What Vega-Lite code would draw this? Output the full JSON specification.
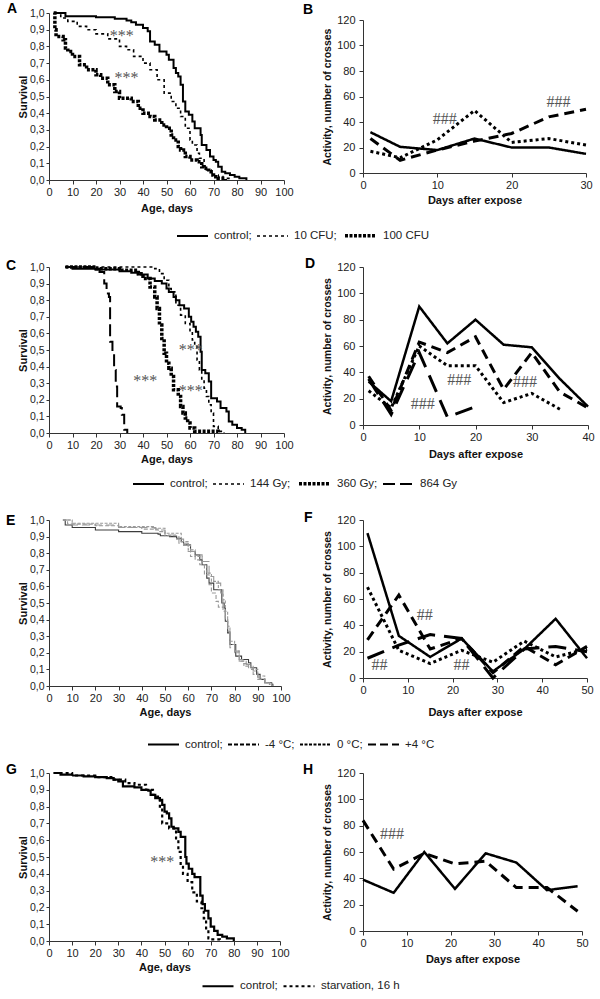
{
"$schema": "https://vega.github.io/schema/vega-lite/v6.json",
"background": "white",
"padding": {"left": 6, "top": 2, "right": 5, "bottom": 2},
"columns": 2,
"spacing": {"row": 87, "column": 79},
"bounds": "flush",
"center": {"row": true},
"resolve": {"scale": {"strokeDash": "independent", "strokeWidth": "independent", "color": "independent"}, "legend": {"strokeDash": "independent", "strokeWidth": "independent", "color": "independent"}},
"datasets": {
"survA": [
{"g":"control","t":2,"s":1.0},{"g":"control","t":7,"s":0.98},{"g":"control","t":20,"s":0.975},{"g":"control","t":28,"s":0.965},{"g":"control","t":33,"s":0.955},{"g":"control","t":35,"s":0.945},{"g":"control","t":37,"s":0.93},{"g":"control","t":40,"s":0.91},{"g":"control","t":42,"s":0.89},{"g":"control","t":43,"s":0.83},{"g":"control","t":45,"s":0.81},{"g":"control","t":47,"s":0.77},{"g":"control","t":50,"s":0.75},{"g":"control","t":51,"s":0.72},{"g":"control","t":53,"s":0.67},{"g":"control","t":54,"s":0.64},{"g":"control","t":55,"s":0.62},{"g":"control","t":56,"s":0.57},{"g":"control","t":57,"s":0.47},{"g":"control","t":58,"s":0.41},{"g":"control","t":59.5,"s":0.39},{"g":"control","t":61,"s":0.35},{"g":"control","t":62,"s":0.31},{"g":"control","t":64.5,"s":0.27},{"g":"control","t":65,"s":0.21},{"g":"control","t":67,"s":0.18},{"g":"control","t":68.5,"s":0.14},{"g":"control","t":70,"s":0.12},{"g":"control","t":71,"s":0.11},{"g":"control","t":72,"s":0.08},{"g":"control","t":73.5,"s":0.05},{"g":"control","t":75,"s":0.04},{"g":"control","t":77,"s":0.03},{"g":"control","t":79,"s":0.02},{"g":"control","t":81,"s":0.01},{"g":"control","t":84,"s":0.0},
{"g":"10 CFU","t":3,"s":1.0},{"g":"10 CFU","t":5,"s":0.97},{"g":"10 CFU","t":8,"s":0.95},{"g":"10 CFU","t":12,"s":0.92},{"g":"10 CFU","t":16,"s":0.9},{"g":"10 CFU","t":20,"s":0.875},{"g":"10 CFU","t":25,"s":0.845},{"g":"10 CFU","t":30,"s":0.8},{"g":"10 CFU","t":33,"s":0.78},{"g":"10 CFU","t":36,"s":0.74},{"g":"10 CFU","t":40,"s":0.7},{"g":"10 CFU","t":43,"s":0.66},{"g":"10 CFU","t":46,"s":0.6},{"g":"10 CFU","t":49,"s":0.52},{"g":"10 CFU","t":52,"s":0.47},{"g":"10 CFU","t":54,"s":0.43},{"g":"10 CFU","t":56,"s":0.38},{"g":"10 CFU","t":58,"s":0.31},{"g":"10 CFU","t":60,"s":0.24},{"g":"10 CFU","t":61,"s":0.21},{"g":"10 CFU","t":63,"s":0.16},{"g":"10 CFU","t":64,"s":0.13},{"g":"10 CFU","t":66,"s":0.08},{"g":"10 CFU","t":67,"s":0.06},{"g":"10 CFU","t":69,"s":0.03},{"g":"10 CFU","t":72,"s":0.02},{"g":"10 CFU","t":74,"s":0.01},{"g":"10 CFU","t":77,"s":0.0},
{"g":"100 CFU","t":2,"s":1.0},{"g":"100 CFU","t":2.5,"s":0.9},{"g":"100 CFU","t":3,"s":0.86},{"g":"100 CFU","t":6,"s":0.84},{"g":"100 CFU","t":7,"s":0.79},{"g":"100 CFU","t":8,"s":0.77},{"g":"100 CFU","t":10,"s":0.74},{"g":"100 CFU","t":13,"s":0.69},{"g":"100 CFU","t":16,"s":0.66},{"g":"100 CFU","t":20,"s":0.63},{"g":"100 CFU","t":22,"s":0.61},{"g":"100 CFU","t":25,"s":0.57},{"g":"100 CFU","t":28,"s":0.53},{"g":"100 CFU","t":30,"s":0.49},{"g":"100 CFU","t":35,"s":0.47},{"g":"100 CFU","t":38,"s":0.43},{"g":"100 CFU","t":40,"s":0.4},{"g":"100 CFU","t":43,"s":0.38},{"g":"100 CFU","t":45,"s":0.36},{"g":"100 CFU","t":48,"s":0.33},{"g":"100 CFU","t":50,"s":0.31},{"g":"100 CFU","t":52,"s":0.27},{"g":"100 CFU","t":53,"s":0.24},{"g":"100 CFU","t":55,"s":0.2},{"g":"100 CFU","t":56,"s":0.18},{"g":"100 CFU","t":58,"s":0.14},{"g":"100 CFU","t":60,"s":0.12},{"g":"100 CFU","t":63,"s":0.11},{"g":"100 CFU","t":65,"s":0.08},{"g":"100 CFU","t":66,"s":0.07},{"g":"100 CFU","t":68,"s":0.05},{"g":"100 CFU","t":69,"s":0.03},{"g":"100 CFU","t":70,"s":0.02},{"g":"100 CFU","t":72,"s":0.01},{"g":"100 CFU","t":75,"s":0.0}
],
"annA": [{"t":31,"s":0.86,"label":"***"},{"t":33,"s":0.61,"label":"***"}],
"actB": [
{"g":"control","t":1,"s":32},{"g":"control","t":5,"s":20.5},{"g":"control","t":10,"s":18},{"g":"control","t":15,"s":27},{"g":"control","t":20,"s":20},{"g":"control","t":25,"s":20},{"g":"control","t":30,"s":15},
{"g":"10 CFU","t":1,"s":27},{"g":"10 CFU","t":5,"s":10},{"g":"10 CFU","t":10,"s":18},{"g":"10 CFU","t":15,"s":25},{"g":"10 CFU","t":20,"s":31},{"g":"10 CFU","t":25,"s":44},{"g":"10 CFU","t":30,"s":50},
{"g":"100 CFU","t":1,"s":17},{"g":"100 CFU","t":5,"s":12},{"g":"100 CFU","t":10,"s":26},{"g":"100 CFU","t":15,"s":49},{"g":"100 CFU","t":20,"s":24},{"g":"100 CFU","t":25,"s":27},{"g":"100 CFU","t":30,"s":22}
],
"annB": [{"t":11,"s":42,"label":"###"},{"t":26.3,"s":56,"label":"###"}],
"survC": [
{"g":"control","t":7,"s":1.0},{"g":"control","t":10,"s":0.99},{"g":"control","t":20,"s":0.985},{"g":"control","t":30,"s":0.975},{"g":"control","t":35,"s":0.965},{"g":"control","t":38,"s":0.955},{"g":"control","t":42,"s":0.93},{"g":"control","t":45,"s":0.915},{"g":"control","t":48,"s":0.9},{"g":"control","t":50,"s":0.87},{"g":"control","t":51,"s":0.85},{"g":"control","t":53,"s":0.82},{"g":"control","t":54,"s":0.8},{"g":"control","t":55.5,"s":0.77},{"g":"control","t":57.5,"s":0.75},{"g":"control","t":59.5,"s":0.7},{"g":"control","t":60.5,"s":0.67},{"g":"control","t":61.5,"s":0.64},{"g":"control","t":62.5,"s":0.61},{"g":"control","t":63.5,"s":0.58},{"g":"control","t":64.5,"s":0.49},{"g":"control","t":65,"s":0.38},{"g":"control","t":66.5,"s":0.36},{"g":"control","t":68,"s":0.31},{"g":"control","t":69,"s":0.21},{"g":"control","t":71.5,"s":0.19},{"g":"control","t":73,"s":0.15},{"g":"control","t":75.5,"s":0.13},{"g":"control","t":76.5,"s":0.07},{"g":"control","t":78,"s":0.05},{"g":"control","t":80,"s":0.03},{"g":"control","t":82,"s":0.02},{"g":"control","t":83.5,"s":0.0},
{"g":"144 Gy","t":7,"s":1.0},{"g":"144 Gy","t":45,"s":0.99},{"g":"144 Gy","t":47,"s":0.96},{"g":"144 Gy","t":49,"s":0.92},{"g":"144 Gy","t":51,"s":0.87},{"g":"144 Gy","t":52,"s":0.85},{"g":"144 Gy","t":54,"s":0.77},{"g":"144 Gy","t":56,"s":0.71},{"g":"144 Gy","t":58,"s":0.66},{"g":"144 Gy","t":60,"s":0.61},{"g":"144 Gy","t":61,"s":0.56},{"g":"144 Gy","t":62,"s":0.53},{"g":"144 Gy","t":63,"s":0.44},{"g":"144 Gy","t":64,"s":0.38},{"g":"144 Gy","t":65,"s":0.32},{"g":"144 Gy","t":66,"s":0.27},{"g":"144 Gy","t":67,"s":0.22},{"g":"144 Gy","t":68,"s":0.17},{"g":"144 Gy","t":69,"s":0.12},{"g":"144 Gy","t":70,"s":0.04},{"g":"144 Gy","t":72,"s":0.01},{"g":"144 Gy","t":74.5,"s":0.0},
{"g":"360 Gy","t":7,"s":1.0},{"g":"360 Gy","t":20,"s":0.99},{"g":"360 Gy","t":30,"s":0.98},{"g":"360 Gy","t":38,"s":0.96},{"g":"360 Gy","t":40,"s":0.93},{"g":"360 Gy","t":43,"s":0.88},{"g":"360 Gy","t":45,"s":0.82},{"g":"360 Gy","t":46,"s":0.75},{"g":"360 Gy","t":47,"s":0.65},{"g":"360 Gy","t":48,"s":0.57},{"g":"360 Gy","t":49,"s":0.48},{"g":"360 Gy","t":50,"s":0.42},{"g":"360 Gy","t":51,"s":0.39},{"g":"360 Gy","t":52,"s":0.34},{"g":"360 Gy","t":53,"s":0.26},{"g":"360 Gy","t":55,"s":0.22},{"g":"360 Gy","t":56,"s":0.16},{"g":"360 Gy","t":57,"s":0.12},{"g":"360 Gy","t":58,"s":0.09},{"g":"360 Gy","t":59,"s":0.06},{"g":"360 Gy","t":60,"s":0.03},{"g":"360 Gy","t":62,"s":0.01},{"g":"360 Gy","t":72,"s":0.0},
{"g":"864 Gy","t":7,"s":1.0},{"g":"864 Gy","t":20,"s":0.99},{"g":"864 Gy","t":21.5,"s":0.97},{"g":"864 Gy","t":23.5,"s":0.9},{"g":"864 Gy","t":24.5,"s":0.84},{"g":"864 Gy","t":25.5,"s":0.82},{"g":"864 Gy","t":26,"s":0.55},{"g":"864 Gy","t":27,"s":0.48},{"g":"864 Gy","t":27.7,"s":0.38},{"g":"864 Gy","t":28.4,"s":0.28},{"g":"864 Gy","t":29,"s":0.16},{"g":"864 Gy","t":30.5,"s":0.15},{"g":"864 Gy","t":31,"s":0.11},{"g":"864 Gy","t":32,"s":0.02},{"g":"864 Gy","t":33.3,"s":0.0}
],
"annC": [{"t":60.3,"s":0.5,"label":"***"},{"t":41,"s":0.315,"label":"***"},{"t":60.3,"s":0.255,"label":"***"}],
"actD": [
{"g":"control","t":1,"s":33},{"g":"control","t":5,"s":18},{"g":"control","t":10,"s":90},{"g":"control","t":15,"s":62},{"g":"control","t":20,"s":80},{"g":"control","t":25,"s":61},{"g":"control","t":30,"s":59},{"g":"control","t":35,"s":35},{"g":"control","t":40,"s":14},
{"g":"144 Gy","t":1,"s":37},{"g":"144 Gy","t":5,"s":11},{"g":"144 Gy","t":10,"s":63},{"g":"144 Gy","t":15,"s":55},{"g":"144 Gy","t":20,"s":67},{"g":"144 Gy","t":25,"s":27},{"g":"144 Gy","t":30,"s":55},{"g":"144 Gy","t":35,"s":25},{"g":"144 Gy","t":40,"s":13},
{"g":"360 Gy","t":1,"s":26},{"g":"360 Gy","t":5,"s":13},{"g":"360 Gy","t":10,"s":60},{"g":"360 Gy","t":15,"s":45},{"g":"360 Gy","t":20,"s":45},{"g":"360 Gy","t":25,"s":17},{"g":"360 Gy","t":30,"s":24},{"g":"360 Gy","t":35,"s":12},
{"g":"864 Gy","t":1,"s":35},{"g":"864 Gy","t":5,"s":8},{"g":"864 Gy","t":10,"s":55},{"g":"864 Gy","t":15,"s":6},{"g":"864 Gy","t":20,"s":14}
],
"annD": [{"t":10.6,"s":16,"label":"###"},{"t":17.1,"s":34,"label":"###"},{"t":28.8,"s":33,"label":"###"}],
"survE": [
{"g":"control","t":6,"s":1.0},{"g":"control","t":7,"s":0.97},{"g":"control","t":10,"s":0.955},{"g":"control","t":20,"s":0.94},{"g":"control","t":30,"s":0.93},{"g":"control","t":40,"s":0.92},{"g":"control","t":47,"s":0.915},{"g":"control","t":48,"s":0.905},{"g":"control","t":52,"s":0.9},{"g":"control","t":55,"s":0.89},{"g":"control","t":57,"s":0.87},{"g":"control","t":58,"s":0.85},{"g":"control","t":61,"s":0.81},{"g":"control","t":63,"s":0.79},{"g":"control","t":65,"s":0.76},{"g":"control","t":66,"s":0.73},{"g":"control","t":68,"s":0.65},{"g":"control","t":69,"s":0.62},{"g":"control","t":71,"s":0.58},{"g":"control","t":74.5,"s":0.5},{"g":"control","t":75.5,"s":0.47},{"g":"control","t":76,"s":0.39},{"g":"control","t":77,"s":0.32},{"g":"control","t":78,"s":0.25},{"g":"control","t":80.5,"s":0.18},{"g":"control","t":83,"s":0.16},{"g":"control","t":86,"s":0.14},{"g":"control","t":87,"s":0.11},{"g":"control","t":89.5,"s":0.07},{"g":"control","t":91,"s":0.04},{"g":"control","t":93,"s":0.02},{"g":"control","t":96,"s":0.01},{"g":"control","t":96.5,"s":0.0},
{"g":"-4 °C","t":6,"s":1.0},{"g":"-4 °C","t":8,"s":0.975},{"g":"-4 °C","t":20,"s":0.965},{"g":"-4 °C","t":30,"s":0.955},{"g":"-4 °C","t":40,"s":0.945},{"g":"-4 °C","t":47,"s":0.93},{"g":"-4 °C","t":50,"s":0.905},{"g":"-4 °C","t":55,"s":0.885},{"g":"-4 °C","t":58,"s":0.85},{"g":"-4 °C","t":61,"s":0.78},{"g":"-4 °C","t":63,"s":0.76},{"g":"-4 °C","t":65,"s":0.73},{"g":"-4 °C","t":67,"s":0.67},{"g":"-4 °C","t":69,"s":0.61},{"g":"-4 °C","t":70,"s":0.56},{"g":"-4 °C","t":72,"s":0.51},{"g":"-4 °C","t":73,"s":0.475},{"g":"-4 °C","t":75,"s":0.45},{"g":"-4 °C","t":76,"s":0.4},{"g":"-4 °C","t":77,"s":0.33},{"g":"-4 °C","t":78,"s":0.25},{"g":"-4 °C","t":80,"s":0.21},{"g":"-4 °C","t":82,"s":0.15},{"g":"-4 °C","t":84,"s":0.135},{"g":"-4 °C","t":86,"s":0.11},{"g":"-4 °C","t":88,"s":0.07},{"g":"-4 °C","t":90,"s":0.04},{"g":"-4 °C","t":93,"s":0.02},{"g":"-4 °C","t":96,"s":0.0},
{"g":"0 °C","t":6,"s":1.0},{"g":"0 °C","t":10,"s":0.98},{"g":"0 °C","t":30,"s":0.96},{"g":"0 °C","t":45,"s":0.95},{"g":"0 °C","t":50,"s":0.92},{"g":"0 °C","t":57,"s":0.87},{"g":"0 °C","t":60,"s":0.82},{"g":"0 °C","t":63,"s":0.78},{"g":"0 °C","t":66,"s":0.73},{"g":"0 °C","t":68,"s":0.68},{"g":"0 °C","t":70,"s":0.63},{"g":"0 °C","t":73,"s":0.58},{"g":"0 °C","t":75,"s":0.52},{"g":"0 °C","t":76,"s":0.45},{"g":"0 °C","t":77,"s":0.36},{"g":"0 °C","t":78,"s":0.27},{"g":"0 °C","t":80,"s":0.2},{"g":"0 °C","t":82,"s":0.15},{"g":"0 °C","t":84,"s":0.12},{"g":"0 °C","t":87,"s":0.1},{"g":"0 °C","t":90,"s":0.06},{"g":"0 °C","t":93,"s":0.02},{"g":"0 °C","t":95,"s":0.01},{"g":"0 °C","t":96,"s":0.0},
{"g":"+4 °C","t":6,"s":1.0},{"g":"+4 °C","t":10,"s":0.97},{"g":"+4 °C","t":30,"s":0.955},{"g":"+4 °C","t":46,"s":0.94},{"g":"+4 °C","t":50,"s":0.91},{"g":"+4 °C","t":56,"s":0.86},{"g":"+4 °C","t":60,"s":0.81},{"g":"+4 °C","t":63,"s":0.79},{"g":"+4 °C","t":66,"s":0.75},{"g":"+4 °C","t":69,"s":0.66},{"g":"+4 °C","t":71,"s":0.62},{"g":"+4 °C","t":74,"s":0.56},{"g":"+4 °C","t":75,"s":0.47},{"g":"+4 °C","t":76,"s":0.4},{"g":"+4 °C","t":77,"s":0.33},{"g":"+4 °C","t":78,"s":0.23},{"g":"+4 °C","t":80,"s":0.21},{"g":"+4 °C","t":82,"s":0.16},{"g":"+4 °C","t":85,"s":0.13},{"g":"+4 °C","t":88,"s":0.09},{"g":"+4 °C","t":90,"s":0.05},{"g":"+4 °C","t":93,"s":0.02},{"g":"+4 °C","t":96,"s":0.0}
],
"actF": [
{"g":"control","t":1,"s":110},{"g":"control","t":8,"s":32},{"g":"control","t":15,"s":16},{"g":"control","t":22,"s":30},{"g":"control","t":29,"s":5},{"g":"control","t":36,"s":22},{"g":"control","t":43,"s":45},{"g":"control","t":50,"s":15},
{"g":"-4 °C","t":1,"s":29},{"g":"-4 °C","t":8,"s":63},{"g":"-4 °C","t":15,"s":22},{"g":"-4 °C","t":22,"s":30},{"g":"-4 °C","t":29,"s":4},{"g":"-4 °C","t":36,"s":24},{"g":"-4 °C","t":43,"s":10},{"g":"-4 °C","t":50,"s":24},
{"g":"0 °C","t":1,"s":69},{"g":"0 °C","t":8,"s":21},{"g":"0 °C","t":15,"s":11},{"g":"0 °C","t":22,"s":21},{"g":"0 °C","t":29,"s":12},{"g":"0 °C","t":36,"s":28},{"g":"0 °C","t":43,"s":16},{"g":"0 °C","t":50,"s":22},
{"g":"+4 °C","t":1,"s":15},{"g":"+4 °C","t":8,"s":25},{"g":"+4 °C","t":15,"s":33},{"g":"+4 °C","t":22,"s":30},{"g":"+4 °C","t":29,"s":0},{"g":"+4 °C","t":36,"s":22},{"g":"+4 °C","t":43,"s":24},{"g":"+4 °C","t":50,"s":20}
],
"annF": [{"t":13.8,"s":48,"label":"##"},{"t":3.7,"s":9.6,"label":"##"},{"t":22,"s":9.6,"label":"##"}],
"survG": [
{"g":"control","t":2,"s":1.0},{"g":"control","t":5,"s":0.99},{"g":"control","t":10,"s":0.985},{"g":"control","t":15,"s":0.98},{"g":"control","t":20,"s":0.975},{"g":"control","t":25,"s":0.97},{"g":"control","t":28,"s":0.96},{"g":"control","t":30,"s":0.95},{"g":"control","t":32,"s":0.92},{"g":"control","t":37,"s":0.915},{"g":"control","t":40,"s":0.9},{"g":"control","t":43,"s":0.895},{"g":"control","t":44,"s":0.87},{"g":"control","t":46,"s":0.85},{"g":"control","t":48,"s":0.84},{"g":"control","t":49,"s":0.81},{"g":"control","t":50,"s":0.77},{"g":"control","t":51,"s":0.76},{"g":"control","t":52,"s":0.73},{"g":"control","t":53,"s":0.68},{"g":"control","t":54,"s":0.67},{"g":"control","t":56,"s":0.65},{"g":"control","t":57,"s":0.62},{"g":"control","t":59,"s":0.5},{"g":"control","t":59.5,"s":0.46},{"g":"control","t":60.5,"s":0.43},{"g":"control","t":62,"s":0.4},{"g":"control","t":63,"s":0.38},{"g":"control","t":65.5,"s":0.27},{"g":"control","t":66.5,"s":0.22},{"g":"control","t":67.5,"s":0.18},{"g":"control","t":69,"s":0.135},{"g":"control","t":70,"s":0.085},{"g":"control","t":71.5,"s":0.06},{"g":"control","t":73,"s":0.036},{"g":"control","t":75,"s":0.026},{"g":"control","t":77,"s":0.016},{"g":"control","t":80,"s":0.0},
{"g":"starvation, 16 h","t":2,"s":1.0},{"g":"starvation, 16 h","t":10,"s":0.985},{"g":"starvation, 16 h","t":20,"s":0.975},{"g":"starvation, 16 h","t":28,"s":0.96},{"g":"starvation, 16 h","t":33,"s":0.94},{"g":"starvation, 16 h","t":37,"s":0.93},{"g":"starvation, 16 h","t":42,"s":0.9},{"g":"starvation, 16 h","t":45,"s":0.87},{"g":"starvation, 16 h","t":46,"s":0.86},{"g":"starvation, 16 h","t":48,"s":0.79},{"g":"starvation, 16 h","t":49,"s":0.7},{"g":"starvation, 16 h","t":52,"s":0.67},{"g":"starvation, 16 h","t":55,"s":0.61},{"g":"starvation, 16 h","t":56,"s":0.53},{"g":"starvation, 16 h","t":57,"s":0.45},{"g":"starvation, 16 h","t":58,"s":0.4},{"g":"starvation, 16 h","t":60,"s":0.35},{"g":"starvation, 16 h","t":62,"s":0.29},{"g":"starvation, 16 h","t":64,"s":0.235},{"g":"starvation, 16 h","t":66,"s":0.195},{"g":"starvation, 16 h","t":67,"s":0.135},{"g":"starvation, 16 h","t":68,"s":0.075},{"g":"starvation, 16 h","t":69,"s":0.016},{"g":"starvation, 16 h","t":70,"s":0.01},{"g":"starvation, 16 h","t":74,"s":0.0}
],
"annG": [{"t":49,"s":0.47,"label":"***"}],
"actH": [
{"g":"control","t":0,"s":39},{"g":"control","t":7,"s":29},{"g":"control","t":14,"s":60},{"g":"control","t":21,"s":32},{"g":"control","t":28,"s":59},{"g":"control","t":35,"s":52},{"g":"control","t":42,"s":31},{"g":"control","t":49,"s":34},
{"g":"starvation, 16 h","t":0,"s":84},{"g":"starvation, 16 h","t":7,"s":47},{"g":"starvation, 16 h","t":14,"s":59},{"g":"starvation, 16 h","t":21,"s":51},{"g":"starvation, 16 h","t":28,"s":53},{"g":"starvation, 16 h","t":35,"s":33},{"g":"starvation, 16 h","t":42,"s":33},{"g":"starvation, 16 h","t":49,"s":15}
],
"annH": [{"t":6.6,"s":74,"label":"###"}]
},
"concat": [
{"width":235,"height":167,"title":{"text":"A","dx":-42,"dy":14},
 "encoding":{
  "x":{"field":"t","type":"quantitative","scale":{"domain":[0,100]},"axis":{"title":"Age, days","values":[0,10,20,30,40,50,60,70,80,90,100],"titlePadding":5}},
  "y":{"field":"s","type":"quantitative","scale":{"domain":[0,1]},"axis":{"title":"Survival","values":[0,0.1,0.2,0.3,0.4,0.5,0.6,0.7,0.8,0.9,1],"labelExpr":"replace(format(datum.value,'.1f'),'.',',')","tickSize":3,"labelFontSize":10.5,"titlePadding":1}}},
 "layer":[
  {"data":{"name":"survA"},"mark":{"type":"line","interpolate":"step-after","color":"black"},
   "encoding":{
    "strokeDash":{"field":"g","type":"nominal","scale":{"domain":["control","10 CFU","100 CFU"],"range":[[1,0],[3,3],[3,1.5]]},"legend":{"title":null,"orient":"none","legendX":127,"legendY":205,"direction":"horizontal","labelExpr":"datum.label == '100 CFU' ? datum.label : datum.label + ';'"}},
    "strokeWidth":{"field":"g","type":"nominal","scale":{"type":"ordinal","domain":["control","10 CFU","100 CFU"],"range":[2,1.6,3.5]},"legend":{"title":null,"orient":"none","legendX":127,"legendY":205,"direction":"horizontal","labelExpr":"datum.label == '100 CFU' ? datum.label : datum.label + ';'"}}
   }},
  {"data":{"name":"annA"},"mark":{"type":"text","font":"Liberation Serif","fontSize":16,"color":"#555","align":"center","baseline":"middle"},
   "encoding":{"text":{"field":"label"}}}
 ]},
{"width":223,"height":153,"title":{"text":"B","dx":-60,"dy":7},
 "encoding":{
  "x":{"field":"t","type":"quantitative","scale":{"domain":[0,30]},"axis":{"title":"Days after expose","values":[0,10,20,30],"titlePadding":4}},
  "y":{"field":"s","type":"quantitative","scale":{"domain":[0,120]},"axis":{"title":"Activity, number of crosses","values":[0,20,40,60,80,100,120],"titleFontSize":10.5,"labelPadding":4,"titlePadding":4}}},
 "layer":[
  {"data":{"name":"actB"},"mark":{"type":"line","color":"black"},
   "encoding":{
    "strokeDash":{"field":"g","type":"nominal","scale":{"domain":["control","10 CFU","100 CFU"],"range":[[1,0],[10,6],[3,3]]},"legend":null},
    "strokeWidth":{"field":"g","type":"nominal","scale":{"type":"ordinal","domain":["control","10 CFU","100 CFU"],"range":[2.5,3,3]},"legend":null}
   }},
  {"data":{"name":"annB"},"mark":{"type":"text","font":"Liberation Serif","fontSize":16,"color":"#555","align":"center","baseline":"middle"},
   "encoding":{"text":{"field":"label"}}}
 ]},
{"width":235,"height":166,"title":{"text":"C","dx":-43,"dy":17},
 "encoding":{
  "x":{"field":"t","type":"quantitative","scale":{"domain":[0,100]},"axis":{"title":"Age, days","values":[0,10,20,30,40,50,60,70,80,90,100],"titlePadding":3}},
  "y":{"field":"s","type":"quantitative","scale":{"domain":[0,1]},"axis":{"title":"Survival","values":[0,0.1,0.2,0.3,0.4,0.5,0.6,0.7,0.8,0.9,1],"labelExpr":"replace(format(datum.value,'.1f'),'.',',')","tickSize":3,"labelFontSize":10.5,"titlePadding":1}}},
 "layer":[
  {"data":{"name":"survC"},"mark":{"type":"line","interpolate":"step-after","color":"black"},
   "encoding":{
    "strokeDash":{"field":"g","type":"nominal","scale":{"domain":["control","144 Gy","360 Gy","864 Gy"],"range":[[1,0],[3,3],[3,1.5],[12,5]]},"legend":{"title":null,"orient":"none","legendX":83,"legendY":199,"direction":"horizontal","labelExpr":"datum.label == '864 Gy' ? datum.label : datum.label + ';'"}},
    "strokeWidth":{"field":"g","type":"nominal","scale":{"type":"ordinal","domain":["control","144 Gy","360 Gy","864 Gy"],"range":[2,1.6,3.5,2]},"legend":{"title":null,"orient":"none","legendX":83,"legendY":199,"direction":"horizontal","labelExpr":"datum.label == '864 Gy' ? datum.label : datum.label + ';'"}}
   }},
  {"data":{"name":"annC"},"mark":{"type":"text","font":"Liberation Serif","fontSize":16,"color":"#555","align":"center","baseline":"middle"},
   "encoding":{"text":{"field":"label"}}}
 ]},
{"width":225,"height":158,"title":{"text":"D","dx":-58,"dy":14},
 "encoding":{
  "x":{"field":"t","type":"quantitative","scale":{"domain":[0,40]},"axis":{"title":"Days after expose","values":[0,10,20,30,40],"titlePadding":6}},
  "y":{"field":"s","type":"quantitative","scale":{"domain":[0,120]},"axis":{"title":"Activity, number of crosses","values":[0,20,40,60,80,100,120],"titleFontSize":10.5,"labelPadding":4,"titlePadding":4}}},
 "layer":[
  {"data":{"name":"actD"},"mark":{"type":"line","color":"black"},
   "encoding":{
    "strokeDash":{"field":"g","type":"nominal","scale":{"domain":["control","144 Gy","360 Gy","864 Gy"],"range":[[1,0],[10,6],[3,3],[18,9]]},"legend":null},
    "strokeWidth":{"field":"g","type":"nominal","scale":{"type":"ordinal","domain":["control","144 Gy","360 Gy","864 Gy"],"range":[2.5,3,3,3]},"legend":null}
   }},
  {"data":{"name":"annD"},"mark":{"type":"text","font":"Liberation Serif","fontSize":16,"color":"#555","align":"center","baseline":"middle"},
   "encoding":{"text":{"field":"label"}}}
 ]},
{"width":232,"height":166,"title":{"text":"E","dx":-43,"dy":17},
 "data":{"name":"survE"},
 "mark":{"type":"line","interpolate":"step-after","strokeWidth":1.1},
 "encoding":{
  "x":{"field":"t","type":"quantitative","scale":{"domain":[0,100]},"axis":{"title":"Age, days","values":[0,10,20,30,40,50,60,70,80,90,100],"titlePadding":3}},
  "y":{"field":"s","type":"quantitative","scale":{"domain":[0,1]},"axis":{"title":"Survival","values":[0,0.1,0.2,0.3,0.4,0.5,0.6,0.7,0.8,0.9,1],"labelExpr":"replace(format(datum.value,'.1f'),'.',',')","tickSize":3,"labelFontSize":10.5,"titlePadding":1}},
  "color":{"condition":{"test":"datum.g == 'control'","value":"#3c3c3c"},"value":"#999999"},
  "strokeDash":{"field":"g","type":"nominal","scale":{"domain":["control","-4 °C","0 °C","+4 °C"],"range":[[1,0],[4,2],[3,1.5],[8,4]]},"legend":{"title":null,"orient":"none","legendX":98,"legendY":208,"direction":"horizontal","symbolStrokeColor":"black","symbolStrokeWidth":2,"labelExpr":"datum.label == '+4 °C' ? datum.label : datum.label + ';'"}}
 }},
{"width":224,"height":158,"title":{"text":"F","dx":-59,"dy":15},
 "encoding":{
  "x":{"field":"t","type":"quantitative","scale":{"domain":[0,50]},"axis":{"title":"Days after expose","values":[0,10,20,30,40,50],"titlePadding":11}},
  "y":{"field":"s","type":"quantitative","scale":{"domain":[0,120]},"axis":{"title":"Activity, number of crosses","values":[0,20,40,60,80,100,120],"titleFontSize":10.5,"labelPadding":4,"titlePadding":4}}},
 "layer":[
  {"data":{"name":"actF"},"mark":{"type":"line","color":"black"},
   "encoding":{
    "strokeDash":{"field":"g","type":"nominal","scale":{"domain":["control","-4 °C","0 °C","+4 °C"],"range":[[1,0],[10,6],[3,3],[18,9]]},"legend":null},
    "strokeWidth":{"field":"g","type":"nominal","scale":{"type":"ordinal","domain":["control","-4 °C","0 °C","+4 °C"],"range":[2.5,3,3,3]},"legend":null}
   }},
  {"data":{"name":"annF"},"mark":{"type":"text","font":"Liberation Serif","fontSize":16,"color":"#555","align":"center","baseline":"middle"},
   "encoding":{"text":{"field":"label"}}}
 ]},
{"width":231,"height":168,"title":{"text":"G","dx":-43,"dy":13},
 "encoding":{
  "x":{"field":"t","type":"quantitative","scale":{"domain":[0,100]},"axis":{"title":"Age, days","values":[0,10,20,30,40,50,60,70,80,90,100],"titlePadding":3}},
  "y":{"field":"s","type":"quantitative","scale":{"domain":[0,1]},"axis":{"title":"Survival","values":[0,0.1,0.2,0.3,0.4,0.5,0.6,0.7,0.8,0.9,1],"labelExpr":"replace(format(datum.value,'.1f'),'.',',')","tickSize":3,"labelFontSize":10.5,"titlePadding":1}}},
 "layer":[
  {"data":{"name":"survG"},"mark":{"type":"line","interpolate":"step-after","color":"black"},
   "encoding":{
    "strokeDash":{"field":"g","type":"nominal","scale":{"domain":["control","starvation, 16 h"],"range":[[1,0],[3,3]]},"legend":{"title":null,"orient":"none","legendX":152,"legendY":196,"direction":"horizontal","labelExpr":"datum.label == 'control' ? datum.label + ';' : datum.label"}},
    "strokeWidth":{"field":"g","type":"nominal","scale":{"type":"ordinal","domain":["control","starvation, 16 h"],"range":[2.2,2.2]},"legend":{"title":null,"orient":"none","legendX":152,"legendY":196,"direction":"horizontal","labelExpr":"datum.label == 'control' ? datum.label + ';' : datum.label"}}
   }},
  {"data":{"name":"annG"},"mark":{"type":"text","font":"Liberation Serif","fontSize":16,"color":"#555","align":"center","baseline":"middle"},
   "encoding":{"text":{"field":"label"}}}
 ]},
{"width":219,"height":158,"title":{"text":"H","dx":-60,"dy":14},
 "encoding":{
  "x":{"field":"t","type":"quantitative","scale":{"domain":[0,50]},"axis":{"title":"Days after expose","values":[0,10,20,30,40,50],"titlePadding":5}},
  "y":{"field":"s","type":"quantitative","scale":{"domain":[0,120]},"axis":{"title":"Activity, number of crosses","values":[0,20,40,60,80,100,120],"titleFontSize":10.5,"labelPadding":4,"titlePadding":4}}},
 "layer":[
  {"data":{"name":"actH"},"mark":{"type":"line","color":"black"},
   "encoding":{
    "strokeDash":{"field":"g","type":"nominal","scale":{"domain":["control","starvation, 16 h"],"range":[[1,0],[10,6]]},"legend":null},
    "strokeWidth":{"field":"g","type":"nominal","scale":{"type":"ordinal","domain":["control","starvation, 16 h"],"range":[2.5,3]},"legend":null}
   }},
  {"data":{"name":"annH"},"mark":{"type":"text","font":"Liberation Serif","fontSize":16,"color":"#555","align":"center","baseline":"middle"},
   "encoding":{"text":{"field":"label"}}}
 ]}
],
"config": {
 "view": {"stroke": null},
 "font": "Liberation Sans",
 "axis": {"grid": false, "labelFont": "Liberation Sans", "labelFontSize": 11, "labelColor": "#222", "titleFont": "Liberation Sans", "titleFontSize": 11, "titleFontWeight": "bold", "titleColor": "#111", "domainColor": "#333", "tickColor": "#333", "tickSize": 4, "labelFlush": false, "labelPadding": 2, "labelOverlap": false},
 "title": {"font": "Liberation Sans", "fontSize": 14, "fontWeight": "bold", "anchor": "start", "frame": "group", "offset": 0, "baseline": "alphabetic", "color": "#000"},
 "legend": {"labelFont": "Liberation Sans", "labelFontSize": 11.5, "labelColor": "#222", "symbolType": "stroke", "symbolSize": 961, "columnPadding": 1, "labelOffset": 5, "padding": 0, "symbolStrokeColor": "black"}
}
}
